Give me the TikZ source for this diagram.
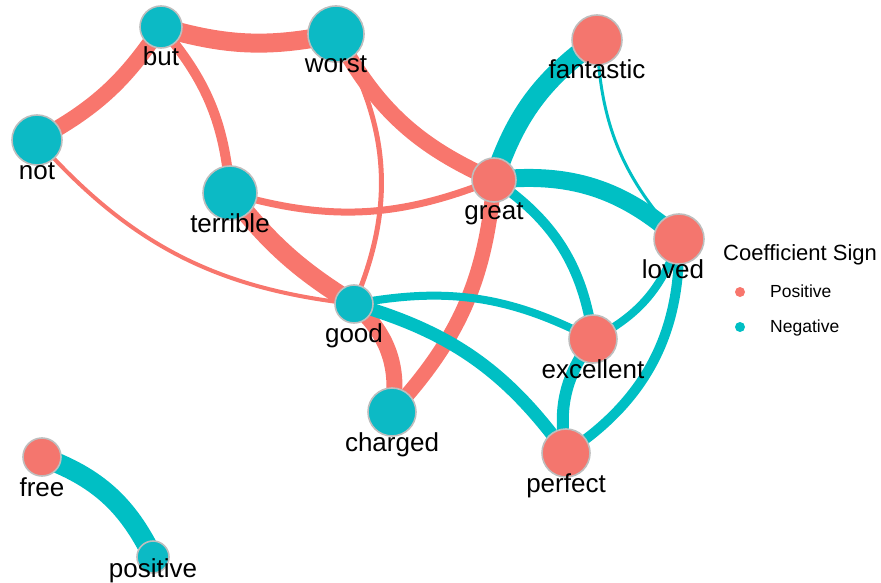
\documentclass[tikz,border=0pt]{standalone}
\usepackage{fontspec}
\setmainfont{Liberation Sans}
\usetikzlibrary{backgrounds}

\definecolor{possign}{HTML}{F8766D}
\definecolor{negsign}{HTML}{00BFC4}
\definecolor{posnode}{HTML}{F4766E}
\definecolor{negnode}{HTML}{0CBAC5}
\definecolor{rimgray}{HTML}{BEBEBE}

\begin{document}
\begin{tikzpicture}[x=1pt, y=1pt,
    term/.style={circle, draw=rimgray, line width=1.6pt, inner sep=0pt},
    termlabel/.style={anchor=base, inner sep=0pt, font=\fontsize{26}{26}\selectfont},
    link/.style={line cap=butt},
    keydot/.style={circle, inner sep=0pt, minimum size=10pt},
    keytext/.style={anchor=base west, inner sep=0pt, font=\fontsize{17.5}{17.5}\selectfont}
    ]
    \useasboundingbox (0,0) rectangle (881,-583);

    % words: name/x/y/diameter/fill/label dx/label dy
    \foreach \w/\x/\y/\d/\tint/\dx/\dy in {
        but/161/27/42/negnode/0/39,
        worst/336/34/56/negnode/0/39,
        fantastic/597/40/50/posnode/0/39,
        not/37/140/50/negnode/0/39,
        terrible/230/193/54/negnode/0/39,
        great/494/180/44/posnode/0/39,
        loved/679/239/50/posnode/-6/39,
        good/354/304/38/negnode/0/38,
        excellent/593/339/48/posnode/0/39,
        charged/392/412/48/negnode/0/39,
        perfect/566/453/48/posnode/0/39,
        free/42/457/38/posnode/0/39,
        positive/153/557/32/negnode/0/20} {
        \node[term, fill=\tint, minimum size=\d pt] (\w) at (\x,-\y) {};
        \node[termlabel] (\w-label) at (\x+\dx,-\y-\dy) {\w};
    }

    % coefficient links, drawn under the words
    \begin{scope}[on background layer]
    \foreach \src/\dst/\lw/\bend/\tint in {
        but/worst/19/-14/possign,
        but/not/16/14/possign,
        but/terrible/10/18/possign,
        not/good/4/-21/possign,
        terrible/great/7/-19/possign,
        terrible/good/19/-10/possign,
        worst/great/16/-19/possign,
        worst/good/5/27/possign,
        good/charged/16/30/possign,
        great/charged/15/19/possign,
        fantastic/great/20/-18/negsign,
        fantastic/loved/3/-20/negsign,
        great/loved/18/24/negsign,
        great/excellent/10/24/negsign,
        good/excellent/8/19/negsign,
        good/perfect/13/19/negsign,
        loved/excellent/8/22/negsign,
        loved/perfect/10/29/negsign,
        excellent/perfect/12/-24/negsign,
        free/positive/20/22/negsign} {
        \draw[link, draw=\tint, line width=\lw pt] (\src.center) to[bend left=\bend] (\dst.center);
    }
    \end{scope}

    % legend
    \node[anchor=base west, inner sep=0pt, font=\fontsize{22}{22}\selectfont] (key-title) at (723,-260) {Coefficient Sign};
    \node[keydot, fill=possign] (key-pos) at (740,-292) {};
    \node[keytext] (key-pos-text) at (770,-297) {Positive};
    \node[keydot, fill=negsign] (key-neg) at (740,-327) {};
    \node[keytext] (key-neg-text) at (770,-332) {Negative};
\end{tikzpicture}
\end{document}
